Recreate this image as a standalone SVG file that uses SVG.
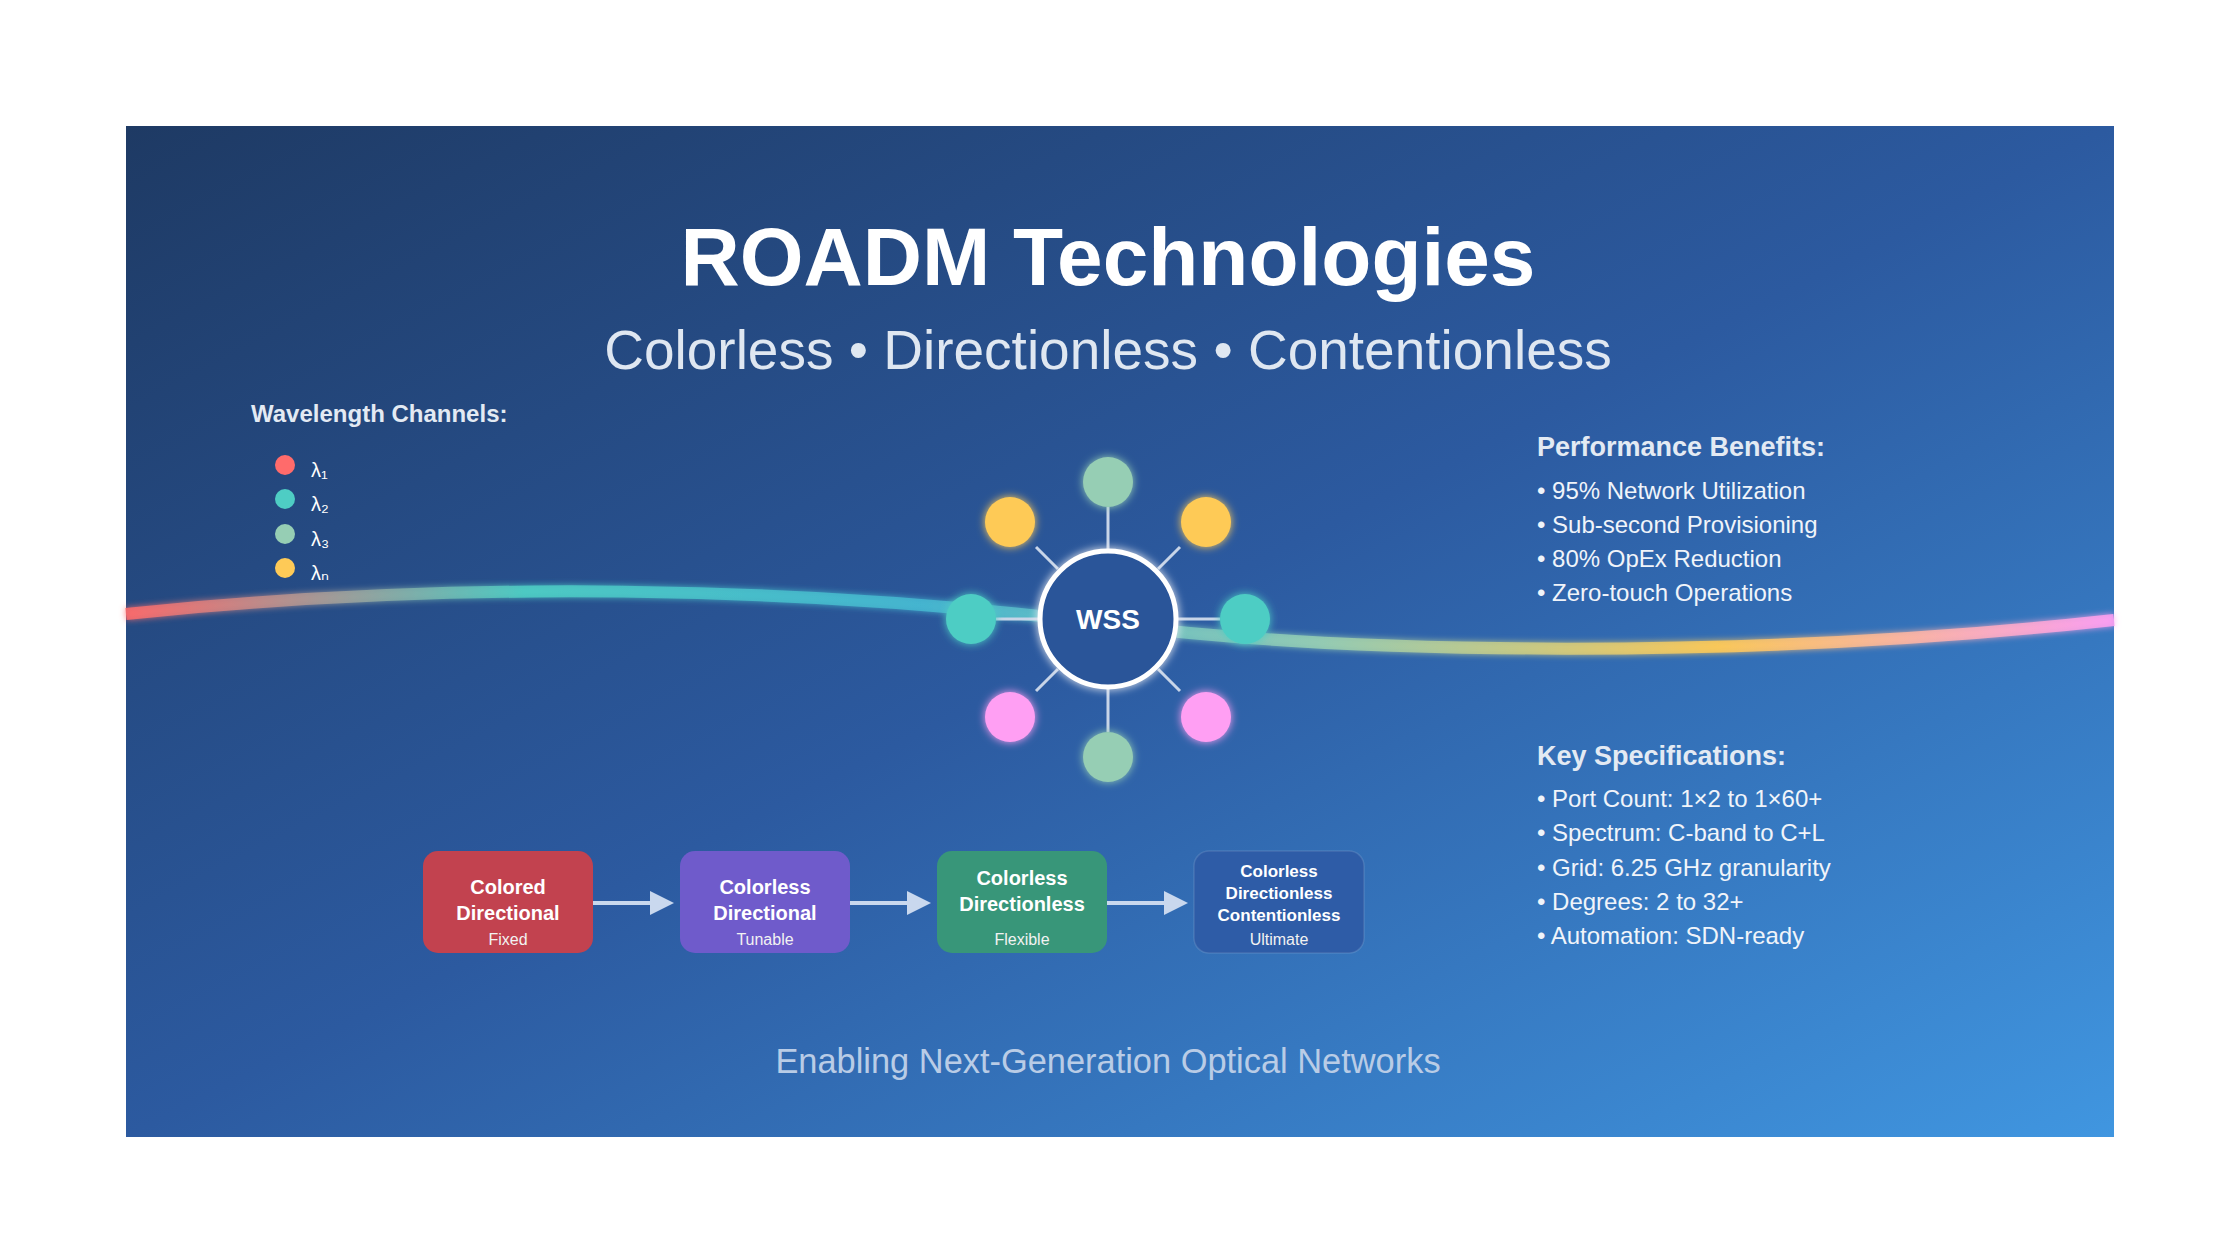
<svg xmlns="http://www.w3.org/2000/svg" width="2240" height="1260" viewBox="0 0 2240 1260">
  <defs>
    <linearGradient id="bg" x1="0" y1="0" x2="1" y2="1">
      <stop offset="0" stop-color="#1e3a64"/>
      <stop offset="0.5" stop-color="#2c5aa0"/>
      <stop offset="1" stop-color="#4096e0"/>
    </linearGradient>
    <linearGradient id="fiber" gradientUnits="userSpaceOnUse" x1="126" y1="0" x2="2114" y2="0">
      <stop offset="0" stop-color="#ff6b6b"/>
      <stop offset="0.2" stop-color="#4ecdc4"/>
      <stop offset="0.4" stop-color="#45b7d1"/>
      <stop offset="0.6" stop-color="#96ceb4"/>
      <stop offset="0.8" stop-color="#feca57"/>
      <stop offset="1" stop-color="#ff9ff3"/>
    </linearGradient>
    <filter id="glow" x="-50%" y="-50%" width="200%" height="200%">
      <feGaussianBlur in="SourceGraphic" stdDeviation="4" result="b"/>
      <feMerge><feMergeNode in="b"/><feMergeNode in="SourceGraphic"/></feMerge>
    </filter>
    <filter id="fglow" x="-5%" y="-200%" width="110%" height="500%">
      <feGaussianBlur in="SourceGraphic" stdDeviation="3" result="b"/>
      <feMerge><feMergeNode in="b"/><feMergeNode in="SourceGraphic"/></feMerge>
    </filter>
    <marker id="arrow" viewBox="0 0 10 10" refX="0" refY="5" markerWidth="7.5" markerHeight="6" markerUnits="strokeWidth" orient="auto">
      <path d="M0,0 L10,5 L0,10 Z" fill="#c9d8ee"/>
    </marker>
    <style>
      text { font-family: "Liberation Sans", Arial, "DejaVu Sans", sans-serif; }
      .title { font-size: 82px; font-weight: bold; fill: #ffffff; text-anchor: middle; }
      .subtitle { font-size: 55px; fill: #dfe7f1; text-anchor: middle; }
      .head { font-size: 27px; font-weight: bold; fill: #e3eaf3; }
      .legendhead { font-size: 24px; font-weight: bold; fill: #e3eaf3; }
      .bullet { font-size: 24px; fill: #f0f4fa; }
      .lam { font-size: 20px; fill: #ffffff; }
      .sat { filter: url(#glow); }
      .spoke { stroke: #c8d5e8; stroke-width: 3; stroke-linecap: butt; }
      .flow { stroke: #c9d8ee; stroke-width: 4; fill: none; }
      .bt { font-size: 20px; font-weight: bold; fill: #ffffff; text-anchor: middle; }
      .bts { font-size: 17px; font-weight: bold; fill: #ffffff; text-anchor: middle; }
      .bsub { font-size: 16px; fill: #f2f2f2; text-anchor: middle; }
      .footer { font-size: 34.4px; fill: #b9cce6; text-anchor: middle; }
    </style>
  </defs>

  <rect x="0" y="0" width="2240" height="1260" fill="#ffffff"/>
  <rect x="126" y="126" width="1988" height="1011" fill="url(#bg)"/>

  <text class="title" x="1108" y="285">ROADM Technologies</text>
  <text class="subtitle" x="1108" y="369">Colorless • Directionless • Contentionless</text>

  <g id="legend">
    <text class="legendhead" x="251" y="422">Wavelength Channels:</text>
    <circle cx="285" cy="465" r="10" fill="#ff6b6b"/>
    <text class="lam" x="311" y="477">λ₁</text>
    <circle cx="285" cy="499" r="10" fill="#4ecdc4"/>
    <text class="lam" x="311" y="511">λ₂</text>
    <circle cx="285" cy="534" r="10" fill="#96ceb4"/>
    <text class="lam" x="311" y="546">λ₃</text>
    <circle cx="285" cy="568" r="10" fill="#feca57"/>
    <text class="lam" x="311" y="580">λₙ</text>
  </g>

  <g id="fiber-line">
    <path d="M126,614 C450,580 800,585 1108,624 C1350,655 1750,660 2114,620" fill="none" stroke="url(#fiber)" stroke-width="12" stroke-opacity="0.85" filter="url(#fglow)"/>
  </g>

  <g id="connectors">
    <line class="spoke" x1="1108" y1="549" x2="1108" y2="507"/>
    <line class="spoke" x1="1108" y1="689" x2="1108" y2="732"/>
    <line class="spoke" x1="1038" y1="619" x2="996" y2="619"/>
    <line class="spoke" x1="1178" y1="619" x2="1220" y2="619"/>
    <line class="spoke" x1="1058" y1="569" x2="1036" y2="547"/>
    <line class="spoke" x1="1158" y1="569" x2="1180" y2="547"/>
    <line class="spoke" x1="1058" y1="669" x2="1036" y2="691"/>
    <line class="spoke" x1="1158" y1="669" x2="1180" y2="691"/>
    <line class="flow" x1="593" y1="903" x2="650" y2="903" marker-end="url(#arrow)"/>
    <line class="flow" x1="850" y1="903" x2="907" y2="903" marker-end="url(#arrow)"/>
    <line class="flow" x1="1107" y1="903" x2="1164" y2="903" marker-end="url(#arrow)"/>
  </g>

  <g id="wss">
    <circle cx="1108" cy="619" r="68" fill="#2a5599" stroke="#ffffff" stroke-width="5" filter="url(#glow)"/>
    <text x="1108" y="629" font-size="28" font-weight="bold" fill="#ffffff" text-anchor="middle">WSS</text>
  </g>

  <g id="sat-top" class="sat"><circle cx="1108" cy="482" r="25" fill="#96ceb4"/></g>
  <g id="sat-top-left" class="sat"><circle cx="1010" cy="522" r="25" fill="#feca57"/></g>
  <g id="sat-top-right" class="sat"><circle cx="1206" cy="522" r="25" fill="#feca57"/></g>
  <g id="sat-left" class="sat"><circle cx="971" cy="619" r="25" fill="#4ecdc4"/></g>
  <g id="sat-right" class="sat"><circle cx="1245" cy="619" r="25" fill="#4ecdc4"/></g>
  <g id="sat-bottom-left" class="sat"><circle cx="1010" cy="717" r="25" fill="#ff9ff3"/></g>
  <g id="sat-bottom-right" class="sat"><circle cx="1206" cy="717" r="25" fill="#ff9ff3"/></g>
  <g id="sat-bottom" class="sat"><circle cx="1108" cy="757" r="25" fill="#96ceb4"/></g>

  <g id="box-colored-directional">
    <rect x="423" y="851" width="170" height="102" rx="15" fill="#c2424f"/>
    <text class="bt" x="508" y="894">Colored</text>
    <text class="bt" x="508" y="920">Directional</text>
    <text class="bsub" x="508" y="945">Fixed</text>
  </g>
  <g id="box-colorless-directional">
    <rect x="680" y="851" width="170" height="102" rx="15" fill="#6f5bcb"/>
    <text class="bt" x="765" y="894">Colorless</text>
    <text class="bt" x="765" y="920">Directional</text>
    <text class="bsub" x="765" y="945">Tunable</text>
  </g>
  <g id="box-colorless-directionless">
    <rect x="937" y="851" width="170" height="102" rx="15" fill="#389679"/>
    <text class="bt" x="1022" y="885">Colorless</text>
    <text class="bt" x="1022" y="911">Directionless</text>
    <text class="bsub" x="1022" y="945">Flexible</text>
  </g>
  <g id="box-cdc">
    <rect x="1194" y="851" width="170" height="102" rx="15" fill="#2e5ca7" stroke="#ffffff" stroke-opacity="0.12" stroke-width="1.5"/>
    <text class="bts" x="1279" y="877">Colorless</text>
    <text class="bts" x="1279" y="899">Directionless</text>
    <text class="bts" x="1279" y="921">Contentionless</text>
    <text class="bsub" x="1279" y="945">Ultimate</text>
  </g>

  <g id="performance-benefits">
    <text class="head" x="1537" y="456">Performance Benefits:</text>
    <text class="bullet" x="1537" y="499">• 95% Network Utilization</text>
    <text class="bullet" x="1537" y="533">• Sub-second Provisioning</text>
    <text class="bullet" x="1537" y="567">• 80% OpEx Reduction</text>
    <text class="bullet" x="1537" y="601">• Zero-touch Operations</text>
  </g>

  <g id="key-specifications">
    <text class="head" x="1537" y="765">Key Specifications:</text>
    <text class="bullet" x="1537" y="807">• Port Count: 1×2 to 1×60+</text>
    <text class="bullet" x="1537" y="841">• Spectrum: C-band to C+L</text>
    <text class="bullet" x="1537" y="876">• Grid: 6.25 GHz granularity</text>
    <text class="bullet" x="1537" y="910">• Degrees: 2 to 32+</text>
    <text class="bullet" x="1537" y="944">• Automation: SDN-ready</text>
  </g>

  <text class="footer" x="1108" y="1073">Enabling Next-Generation Optical Networks</text>
</svg>
